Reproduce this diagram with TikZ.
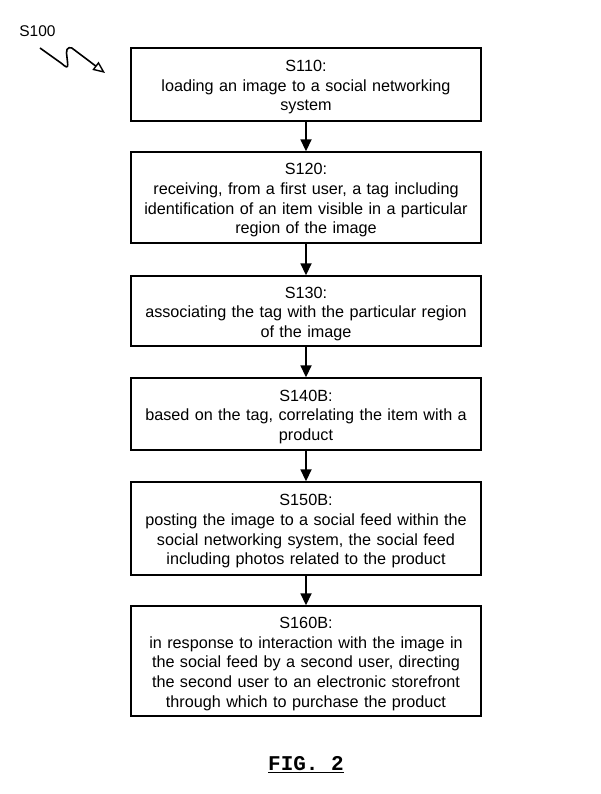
\documentclass[tikz,border=0pt]{standalone}
\usepackage{fontspec}
\setmainfont{Liberation Sans}
\newfontfamily\figfont{Liberation Mono}
\usetikzlibrary{arrows.meta}
\begin{document}
\begin{tikzpicture}[x=1pt,y=-1pt,
  stepbox/.style={draw,line width=1.4pt,rectangle,inner sep=0pt,
    text width=350pt,align=center,font=\fontsize{16.2}{19.6}\selectfont,
    execute at begin node={\leavevmode\vrule width 0pt height 17pt depth 0pt\relax}},
  flow/.style={line width=1.8pt,-{Triangle[length=12pt,width=11pt]}}]
\useasboundingbox (0,0) rectangle (600,794);
\fill[white] (0,0) rectangle (600,794);
\node[stepbox,minimum height=73pt] (s110) at (306,84.5) {S110:\\loading an image to a social networking\\system};
\node[stepbox,minimum height=91pt] (s120) at (306,197.5) {S120:\\receiving, from a first user, a tag including\\identification of an item visible in a particular\\region of the image};
\node[stepbox,minimum height=70pt] (s130) at (306,311) {S130:\\associating the tag with the particular region\\of the image};
\node[stepbox,minimum height=72pt] (s140) at (306,414) {S140B:\\based on the tag, correlating the item with a\\product};
\node[stepbox,minimum height=93pt] (s150) at (306,528.5) {S150B:\\posting the image to a social feed within the\\social networking system, the social feed\\including photos related to the product};
\node[stepbox,minimum height=110pt] (s160) at (306,661) {S160B:\\in response to interaction with the image in\\the social feed by a second user, directing\\the second user to an electronic storefront\\through which to purchase the product};
\draw[flow] (s110) -- (s120);
\draw[flow] (s120) -- (s130);
\draw[flow] (s130) -- (s140);
\draw[flow] (s140) -- (s150);
\draw[flow] (s150) -- (s160);
\node[font=\fontsize{15.5}{17}\selectfont] (s100) at (37.5,31) {S100};
\coordinate (sqa) at (40,48);
\coordinate (sqb) at (105,73);
\draw[line width=1.6pt,line join=round,-{Triangle[open,length=12pt,width=10pt,line width=1.4pt]}] (sqa) -- (61,63) .. controls (66,67) and (68.5,70) .. (67.5,62) -- (66.5,53) .. controls (66,47) and (71,46) .. (74.5,50) -- (sqb);
\node[font=\figfont\bfseries\fontsize{21}{23}\selectfont,inner sep=0pt] (fig) at (306,765) {\underline{FIG. 2}};
\end{tikzpicture}
\end{document}
